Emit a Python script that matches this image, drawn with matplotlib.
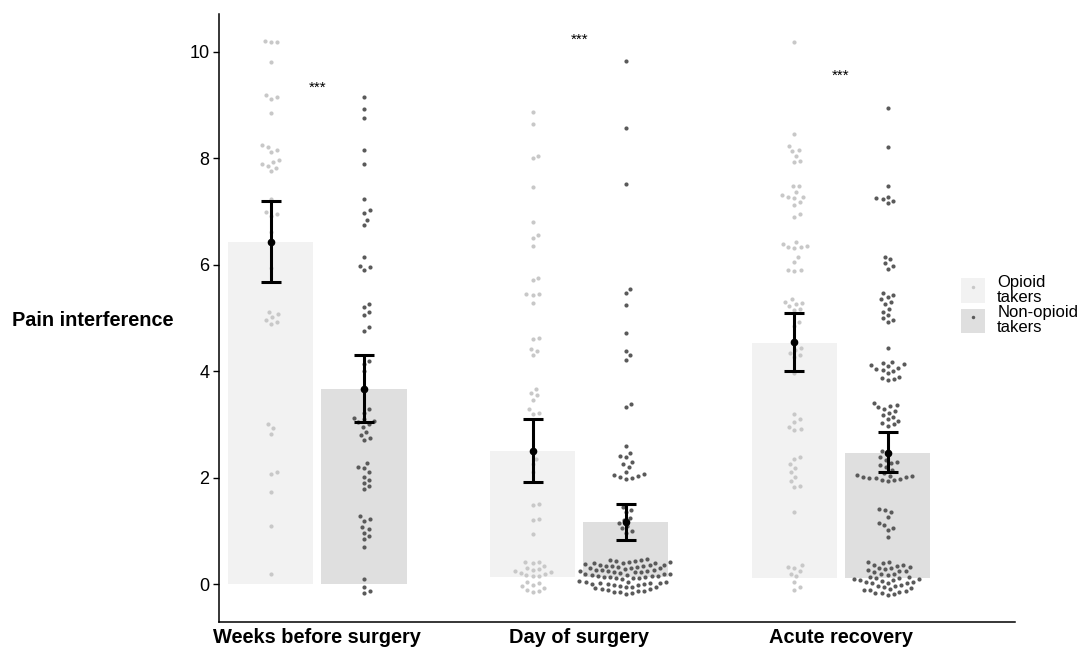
import numpy as np
import matplotlib
matplotlib.use('Agg')
import matplotlib.pyplot as plt
from matplotlib.patches import Patch
from matplotlib.lines import Line2D

plt.rcParams['font.family'] = ['Liberation Sans', 'DejaVu Sans']

# ---- data ----
periods = ['Weeks before surgery', 'Day of surgery', 'Acute recovery']
groups = ['Opioid\ntakers', 'Non-opioid\ntakers']

bar_top = {'op': [6.43, 2.50, 4.53], 'non': [3.67, 1.17, 2.46]}
bar_bottom = {'op': [0.0, 0.13, 0.11], 'non': [0.0, 0.13, 0.11]}
mean_val = {'op': [6.43, 2.51, 4.55], 'non': [3.67, 1.17, 2.47]}
ci_low = {'op': [5.67, 1.92, 4.00], 'non': [3.05, 0.83, 2.10]}
ci_high = {'op': [7.20, 3.10, 5.10], 'non': [4.30, 1.50, 2.85]}
star_y = [9.32, 10.23, 9.55]

weeks_op = [10.2, 10.19, 10.18, 9.81, 9.18, 9.15, 9.12, 8.85, 8.25, 8.22, 8.16, 8.12,
            7.96, 7.93, 7.9, 7.86, 7.81, 7.76, 7.24, 7.0, 6.96, 6.92, 6.62, 5.94,
            5.12, 5.07, 5.02, 4.97, 4.93, 4.89, 3.0, 2.93, 2.82, 2.1, 2.07, 1.73, 1.09, 0.19]
weeks_non = [9.15, 8.93, 8.75, 8.16, 7.89, 7.23, 7.02, 6.98, 6.84, 6.74, 6.15, 5.98, 5.95,
             5.9, 5.27, 5.21, 5.11, 5.05, 4.83, 4.76, 4.2, 4.14, 4.0, 3.3, 3.22, 3.12, 3.1,
             3.07, 3.04, 3.0, 2.96, 2.86, 2.8, 2.75, 2.7, 2.28, 2.2, 2.18, 2.1, 2.02, 1.96,
             1.9, 1.84, 1.78, 1.28, 1.22, 1.19, 1.08, 1.04, 0.97, 0.91, 0.85, 0.7, 0.09,
             -0.05, -0.12, -0.17]
day_op = [8.87, 8.64, 8.05, 8.0, 7.46, 6.8, 6.55, 6.5, 6.36, 5.75, 5.71, 5.46, 5.45, 5.44,
          5.28, 4.62, 4.6, 4.42, 4.38, 4.3, 3.67, 3.6, 3.55, 3.46, 3.3, 3.22, 3.2, 2.46,
          2.35, 2.25, 2.1, 1.5, 1.48, 1.22, 1.21, 0.94,
          0.42, 0.41, 0.4, 0.34, 0.31, 0.29, 0.27, 0.25, 0.23, 0.21, 0.19, 0.17, 0.16, 0.15,
          0.05, 0.02, -0.01, -0.04, -0.07, -0.1, -0.12, -0.15]
day_non = [9.83, 8.57, 7.52, 5.55, 5.47, 5.25, 4.72, 4.38, 4.3, 4.22, 3.38, 3.33, 2.59,
           2.46, 2.4, 2.38, 2.3, 2.25, 2.2, 2.1, 2.07, 2.05, 2.03, 2.01, 1.99, 1.97, 1.45,
           1.4, 1.35, 1.24, 1.2, 1.15, 1.1, 1.05, 1.0, 0.96,
           0.47, 0.46, 0.45, 0.44, 0.43, 0.42, 0.41, 0.4, 0.4, 0.39, 0.38, 0.37, 0.37, 0.36,
           0.35, 0.34, 0.34, 0.33, 0.32, 0.31, 0.31, 0.3,
           0.28, 0.27, 0.27, 0.26, 0.25, 0.24, 0.24, 0.23, 0.22, 0.22, 0.21, 0.2, 0.19, 0.19,
           0.18, 0.17, 0.16, 0.16, 0.15, 0.14, 0.14, 0.13, 0.12, 0.11, 0.11, 0.1,
           0.06, 0.05, 0.05, 0.04, 0.03, 0.03, 0.02, 0.01, 0.01, 0.0, -0.01, -0.02, -0.03,
           -0.05, -0.05, -0.06, -0.08, -0.09, -0.09, -0.11, -0.12, -0.13, -0.15, -0.15,
           -0.17, -0.18]
acute_op = [10.19, 8.45, 8.23, 8.15, 8.13, 8.04, 7.95, 7.93, 7.48, 7.47, 7.37, 7.31, 7.28,
            7.27, 7.26, 7.18, 7.12, 6.95, 6.9, 6.43, 6.39, 6.35, 6.34, 6.33, 6.32, 6.15,
            6.05, 5.91, 5.9, 5.89, 5.35, 5.3, 5.28, 5.26, 5.22, 5.17, 5.15, 4.92, 4.85,
            4.44, 4.4, 4.35, 4.3, 4.27, 3.97, 3.2, 3.1, 3.05, 2.95, 2.91, 2.9, 2.39, 2.35,
            2.25, 2.18, 2.1, 2.02, 1.93, 1.85, 1.83, 1.35, 0.36, 0.32, 0.3, 0.25, 0.2, 0.15,
            0.04, -0.05, -0.1]
acute_non = [8.94, 8.22, 7.47, 7.28, 7.25, 7.23, 7.2, 7.16, 6.15, 6.1, 6.03, 5.97, 5.92,
             5.47, 5.44, 5.4, 5.35, 5.3, 5.26, 5.17, 5.12, 5.05, 5.0, 4.97, 4.93, 4.44,
             4.18, 4.16, 4.13, 4.11, 4.09, 4.07, 4.05, 4.03, 4.0, 3.96, 3.9, 3.87, 3.85, 3.83,
             3.4, 3.37, 3.35, 3.32, 3.3, 3.26, 3.22, 3.18, 3.14, 3.1, 3.07, 3.03, 3.0, 2.97,
             2.5, 2.44, 2.38, 2.33, 2.3, 2.27, 2.24, 2.2, 2.15, 2.08, 2.06, 2.04, 2.03, 2.02,
             2.01, 2.0, 1.99, 1.98, 1.96, 1.95, 1.93, 1.42, 1.39, 1.36, 1.27, 1.15, 1.11,
             1.06, 1.01, 0.88,
             0.42, 0.41, 0.39, 0.37, 0.36, 0.35, 0.33, 0.31, 0.3, 0.28, 0.27, 0.25, 0.24,
             0.22, 0.2, 0.19, 0.17,
             0.14, 0.13, 0.12, 0.11, 0.1, 0.09, 0.08, 0.07, 0.06, 0.05, 0.04, 0.03, 0.03, 0.02,
             -0.01, -0.03, -0.04, -0.06, -0.07, -0.09, -0.1, -0.11, -0.13, -0.14, -0.16,
             -0.17, -0.18, -0.2]

points = {'op': [weeks_op, day_op, acute_op], 'non': [weeks_non, day_non, acute_non]}

# ---- style ----
bar_col = {'op': '#f2f2f2', 'non': '#dfdfdf'}
pt_col = {'op': '#c8c8c8', 'non': '#5a5a5a'}
dodge = {'op': -0.178, 'non': 0.178}
bar_w = 0.325


def swarm(vals, d, sy):
    # simple beeswarm in pixel units, lowest values placed first
    placed = []
    out = {}
    order = np.argsort(vals, kind='stable')
    for i in order:
        y = vals[i] * sy
        cands = [0.0]
        for px, py in placed:
            dy = y - py
            if abs(dy) < d:
                dx = np.sqrt(d * d - dy * dy)
                cands += [px + dx, px - dx]
        cands.sort(key=abs)
        for c in cands:
            if all((c - px) ** 2 + (y - py) ** 2 >= d * d - 1e-6 for px, py in placed):
                break
        placed.append((c, y))
        out[i] = c
    return np.array([out[i] for i in range(len(vals))])


fig = plt.figure(figsize=(10.81, 6.5), dpi=100)
ax = fig.add_axes([219 / 1081, 1 - 622 / 650, (1015 - 219) / 1081, (622 - 14) / 650])
ax.set_xlim(-0.376, 2.665)
ax.set_ylim(-0.71, 10.71)

# pixel scale of data units
p0 = ax.transData.transform((0, 0))
p1 = ax.transData.transform((1, 1))
sx, sy = p1[0] - p0[0], p1[1] - p0[1]

x = np.arange(len(periods))
for g in ['op', 'non']:
    xs = x + dodge[g]
    ax.bar(xs, np.array(bar_top[g]) - np.array(bar_bottom[g]), bottom=bar_bottom[g],
           width=bar_w, color=bar_col[g], zorder=1)
    for k in range(len(periods)):
        v = np.array(points[g][k])
        off = swarm(v, 6.2, sy) / sx
        ax.scatter(xs[k] + off, v, s=9, color=pt_col[g], lw=0, zorder=2)
    ax.errorbar(xs, mean_val[g],
                yerr=[np.array(mean_val[g]) - np.array(ci_low[g]),
                      np.array(ci_high[g]) - np.array(mean_val[g])],
                fmt='o', color='black', ms=4.5, elinewidth=2.2, capsize=7, capthick=2.2,
                zorder=3)

for k in range(len(periods)):
    ax.text(x[k], star_y[k], '***', ha='center', va='center', fontsize=11)

ax.spines['top'].set_visible(False)
ax.spines['right'].set_visible(False)
ax.spines['left'].set_linewidth(1.1)
ax.spines['bottom'].set_linewidth(1.1)
ax.set_yticks([0, 2, 4, 6, 8, 10])
ax.tick_params(axis='y', labelsize=13, length=4, width=1.0, colors='black', pad=3)
ax.set_xticks(x)
ax.set_xticklabels(periods, fontsize=14.4, fontweight='bold')
ax.tick_params(axis='x', length=0, pad=4.5)

fig.text(12 / 1081, 1 - 320 / 650, 'Pain interference', ha='left', va='center',
         fontsize=14.3, fontweight='bold')

handles = [(Patch(fc=bar_col[g], ec='none'),
            Line2D([], [], ls='', marker='o', ms=2.5, mew=0, color=pt_col[g]))
           for g in ['op', 'non']]
leg = fig.legend(handles, groups, loc='center left',
                 bbox_to_anchor=(958 / 1081, 1 - 305 / 650), frameon=False,
                 fontsize=12, handlelength=1.4, handleheight=1.85, handletextpad=0.75,
                 labelspacing=0.05, borderpad=0.2, borderaxespad=0.0)
for t in leg.get_texts():
    t.set_linespacing(0.95)

fig.savefig('out.png', dpi=100)
